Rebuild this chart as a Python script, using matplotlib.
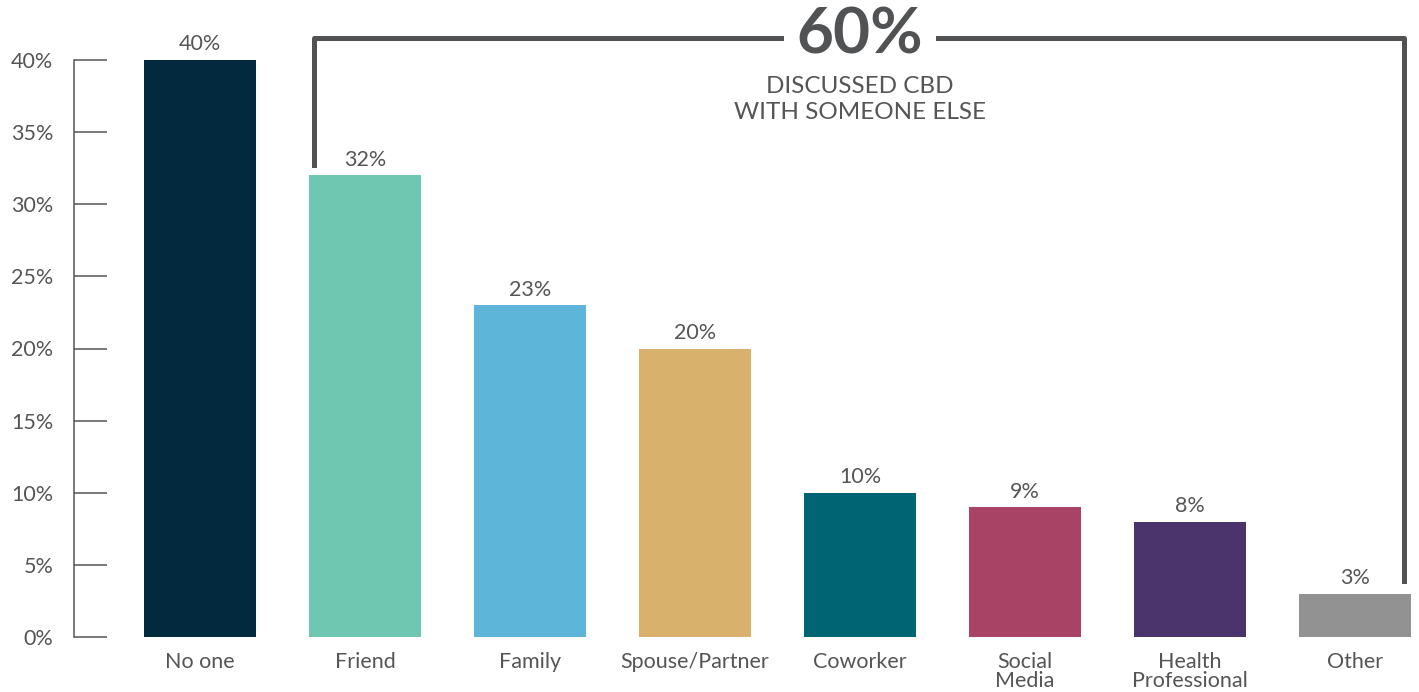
import matplotlib
matplotlib.use("Agg")
import matplotlib.pyplot as plt
from matplotlib.ticker import MultipleLocator, FuncFormatter

categories = ["No one", "Friend", "Family", "Spouse/Partner", "Coworker",
              "Social\nMedia", "Health\nProfessional", "Other"]
values = [40, 32, 23, 20, 10, 9, 8, 3]
colors = ["#02293e", "#6fc7b2", "#5db5d9", "#d8b16c", "#006472",
          "#a84366", "#4b346c", "#929292"]
headline = "60%"
subtitle = "DISCUSSED CBD\nWITH SOMEONE ELSE"

TEXT = "#555555"
BRACKET = "#505254"
plt.rcParams["font.family"] = ["Lato", "DejaVu Sans"]

W, H = 1419, 692
fig = plt.figure(figsize=(W / 100, H / 100), dpi=100)
ax = fig.add_axes([74 / W, 55 / H, (W - 74) / W, 577 / H])

x = list(range(len(categories)))
ax.bar(x, values, width=0.68, color=colors, zorder=2)
for xi, v in zip(x, values):
    ax.annotate(f"{v}%", (xi, v), xytext=(0, 4), textcoords="offset points",
                ha="center", va="bottom", fontsize=15.5, color=TEXT)

ax.set_ylim(0, 40)
ax.set_xlim(-0.764, 7.388)
ax.yaxis.set_major_locator(MultipleLocator(5))
ax.yaxis.set_major_formatter(FuncFormatter(lambda v, p: f"{v:.0f}%"))
ax.set_xticks(x)
ax.set_xticklabels(categories, linespacing=0.95)
ax.tick_params(axis="y", direction="in", length=24, width=1.1, color=TEXT,
               pad=15, labelsize=15.5, labelcolor=TEXT)
ax.tick_params(axis="x", length=0, pad=11, labelsize=15.5, labelcolor=TEXT)
for s in ["top", "right", "bottom"]:
    ax.spines[s].set_visible(False)
ax.spines["left"].set_color(TEXT)
ax.spines["left"].set_linewidth(1.1)

# bracket from Friend to Other
top = 41.5
xl = x[1] - 0.31
xr = x[-1] + 0.30
ax.plot([xl, xl, xr, xr], [values[1] + 0.7, top, top, values[-1] + 0.9],
        color=BRACKET, lw=3.6, clip_on=False, solid_joinstyle="round", zorder=3)
xm = (x[1] + x[-1]) / 2
ax.text(xm, top + 0.2, headline, ha="center", va="center", fontsize=46,
        fontweight="bold", color=BRACKET, clip_on=False, zorder=4,
        bbox=dict(facecolor="white", edgecolor="none", pad=9))
ax.text(xm, top - 2.6, subtitle, ha="center", va="top", fontsize=17.5,
        color=TEXT, linespacing=1.3, clip_on=False, zorder=5)

fig.savefig("out.png", dpi=100)
